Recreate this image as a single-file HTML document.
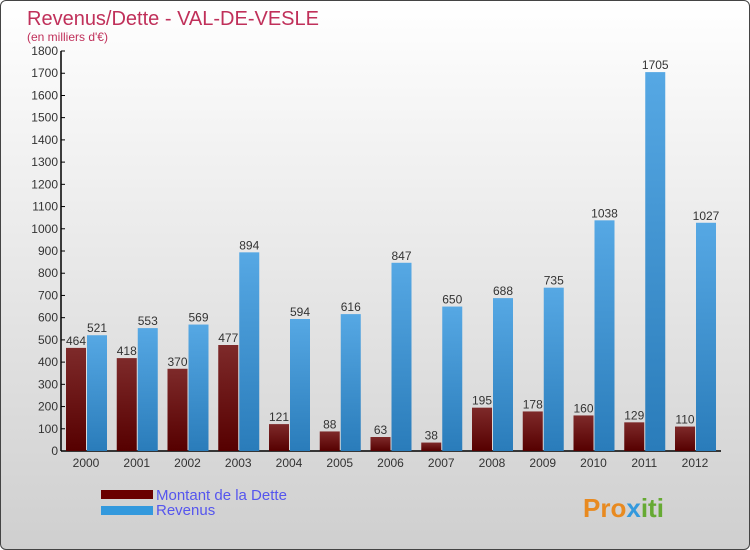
<!DOCTYPE html>
<html><head><meta charset="utf-8"><style>
body{margin:0;width:750px;height:550px;overflow:hidden;font-family:"Liberation Sans",sans-serif}
#wrap{position:absolute;left:0;top:0;width:748px;height:548px;border:1px solid #444;border-radius:6px;background:linear-gradient(#ffffff,#cfcfcf);overflow:hidden}
</style></head><body>
<div id="wrap">
<svg id="chart" width="750" height="550" xmlns="http://www.w3.org/2000/svg">
<defs>
<linearGradient id="gd" x1="0" y1="0" x2="0" y2="1"><stop offset="0" stop-color="#7e2a2a"/><stop offset="1" stop-color="#560000"/></linearGradient>
<linearGradient id="gr" x1="0" y1="0" x2="0" y2="1"><stop offset="0" stop-color="#56a8e4"/><stop offset="1" stop-color="#2a7cba"/></linearGradient>
</defs>
<text x="26" y="24" font-size="20" fill="#c0305a">Revenus/Dette - VAL-DE-VESLE</text>
<text x="26" y="40" font-size="12" fill="#c0305a">(en milliers d'€)</text>
<g id="axes"></g><g id="bars"></g>
<rect x="100" y="489" width="52" height="9" fill="#6a0000"/>
<text x="155" y="499" font-size="15" fill="#5555ee">Montant de la Dette</text>
<rect x="100" y="505" width="52" height="9" fill="#3399dd"/>
<text x="155" y="514" font-size="15" fill="#5555ee">Revenus</text>
<text x="582" y="516" font-size="26" font-weight="bold" fill="#e88a20">Pro<tspan fill="#3399dd">x</tspan><tspan fill="#66aa33">iti</tspan></text>
</svg></div>
<script>
const years=["2000","2001","2002","2003","2004","2005","2006","2007","2008","2009","2010","2011","2012"];
const debt=[464,418,370,477,121,88,63,38,195,178,160,129,110];
const revenue=[521,553,569,894,594,616,847,650,688,735,1038,1705,1027];
const ticks=[0,100,200,300,400,500,600,700,800,900,1000,1100,1200,1300,1400,1500,1600,1700,1800];
const NS="http://www.w3.org/2000/svg";
const y0=450,yTop=50,maxV=1800,x0=60;
const yS=v=>y0-(v/maxV)*(y0-yTop);
const xC=i=>85+i*50.75;
const ax=document.getElementById('axes'),bg=document.getElementById('bars');
function mk(tag,at,p){const e=document.createElementNS(NS,tag);for(const k in at)e.setAttribute(k,at[k]);p.appendChild(e);return e;}
let l=mk('line',{x1:x0,y1:yTop,x2:x0,y2:y0,stroke:'#000','stroke-width':1.5},ax);


l=mk('line',{x1:x0,y1:y0,x2:720,y2:y0,stroke:'#000','stroke-width':1.5},ax);


ticks.forEach(t=>{const y=yS(t);
 mk('line',{x1:x0,y1:y,x2:x0+4,y2:y,stroke:'#000'},ax);
 const tx=mk('text',{x:x0-3,y:y+4,'font-size':12,'text-anchor':'end',fill:'#333'},ax);tx.textContent=t;
 
 
});
years.forEach((yr,i)=>{const c=xC(i);
 const tx=mk('text',{x:c,y:466,'font-size':12,'text-anchor':'middle',fill:'#333'},ax);tx.textContent=yr;
 
 
 const r1=mk('rect',{x:c-20,y:yS(debt[i]),width:20,height:y0-yS(debt[i]),fill:'url(#gd)'},bg);
 
 
 const r2=mk('rect',{x:c+1,y:yS(revenue[i]),width:20,height:y0-yS(revenue[i]),fill:'url(#gr)'},bg);
 
 
 const t1=mk('text',{x:c-10,y:yS(debt[i])-3,'font-size':12,'text-anchor':'middle',fill:'#333'},bg);t1.textContent=debt[i];
 
 
 const t2=mk('text',{x:c+11,y:yS(revenue[i])-3,'font-size':12,'text-anchor':'middle',fill:'#333'},bg);t2.textContent=revenue[i];
 
 
});
</script>
</body></html>
